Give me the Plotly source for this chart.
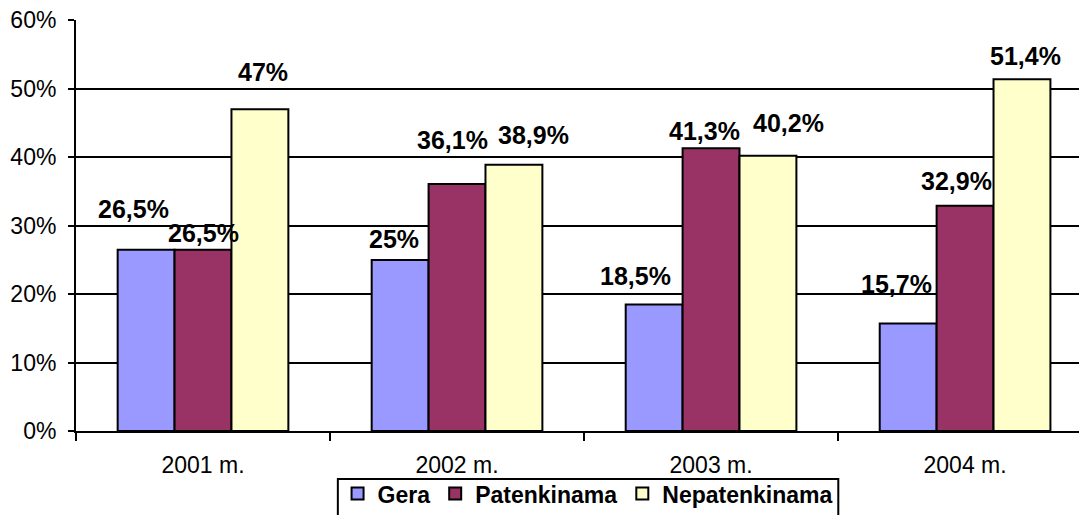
import plotly.graph_objects as go

categories = ["2001 m.", "2002 m.", "2003 m.", "2004 m."]
series_names = ["Gera", "Patenkinama", "Nepatenkinama"]
gera = [26.5, 25.0, 18.5, 15.7]
patenkinama = [26.5, 36.1, 41.3, 32.9]
nepatenkinama = [47.0, 38.9, 40.2, 51.4]
y_ticks = [0, 10, 20, 30, 40, 50, 60]
y_tick_labels = [f"{t}%" for t in y_ticks]

colors = ["#9999FF", "#993366", "#FFFFCC"]
# label offsets (px) relative to bar top centre, per series per category
label_dx = [[-13, -6, -19, -12], [0, -5, -7, -9], [3, 20, 21, 4]]
label_dy = [[41, 21, 28, 40], [17, 44, 17, 25], [37, 30, 33, 23]]

FONT = "Liberation Sans, Arial, sans-serif"
bargap = 0.328
series = [gera, patenkinama, nepatenkinama]

def fmt(v):
    return f"{v:g}".replace(".", ",") + "%"

fig = go.Figure()
for name, vals, c in zip(series_names, series, colors):
    fig.add_trace(go.Bar(
        name=name, x=categories, y=vals,
        marker=dict(color=c, line=dict(color="black", width=2)),
    ))

barw = (1 - bargap) / len(series)
annotations = []
for k, vals in enumerate(series):
    for i, v in enumerate(vals):
        annotations.append(dict(
            x=i + (k - 1) * barw, y=v, xref="x", yref="y",
            text="<b>" + fmt(v) + "</b>", showarrow=False,
            xanchor="center", yanchor="middle",
            xshift=label_dx[k][i], yshift=label_dy[k][i],
            font=dict(family=FONT, size=25, color="black"),
        ))

# page body has an 8px default margin, compensated here
fig.update_layout(
    width=1079, height=507,
    margin=dict(l=68, r=0, t=12, b=84, autoexpand=False),
    paper_bgcolor="white", plot_bgcolor="white",
    barmode="group", bargap=bargap, bargroupgap=0,
    font=dict(family=FONT, size=23, color="black"),
    annotations=annotations,
    legend=dict(
        orientation="h", x=0.506, xanchor="center", y=-0.10, yanchor="top",
        borderwidth=0, bgcolor="rgba(0,0,0,0)",
        font=dict(family=FONT, size=23, color="black", weight="bold"),
        itemwidth=30,
    ),
    shapes=[dict(
        type="rect", xref="paper", yref="paper",
        x0=0.259, x1=0.754, y0=-0.1168, y1=-0.30,
        line=dict(color="black", width=2), fillcolor="rgba(0,0,0,0)", layer="below",
    )],
    showlegend=True,
)
fig.update_xaxes(
    range=[-0.5, 3.48], showline=True, linecolor="black", linewidth=2,
    ticks="outside", tickson="boundaries", ticklen=8, tickwidth=2, tickcolor="black",
    ticklabelstandoff=12, showgrid=False,
    tickfont=dict(family=FONT, size=23, color="black"),
)
fig.update_yaxes(
    range=[0, 60.05], tickvals=y_ticks, ticktext=y_tick_labels,
    showline=True, linecolor="black", linewidth=2,
    ticks="outside", ticklen=6, tickwidth=2, tickcolor="black",
    showgrid=True, gridcolor="black", gridwidth=2, zeroline=False,
    ticklabelstandoff=7, ticklabeloverflow="allow",
    tickfont=dict(family=FONT, size=23, color="black"),
)
fig.write_html("out.html")
